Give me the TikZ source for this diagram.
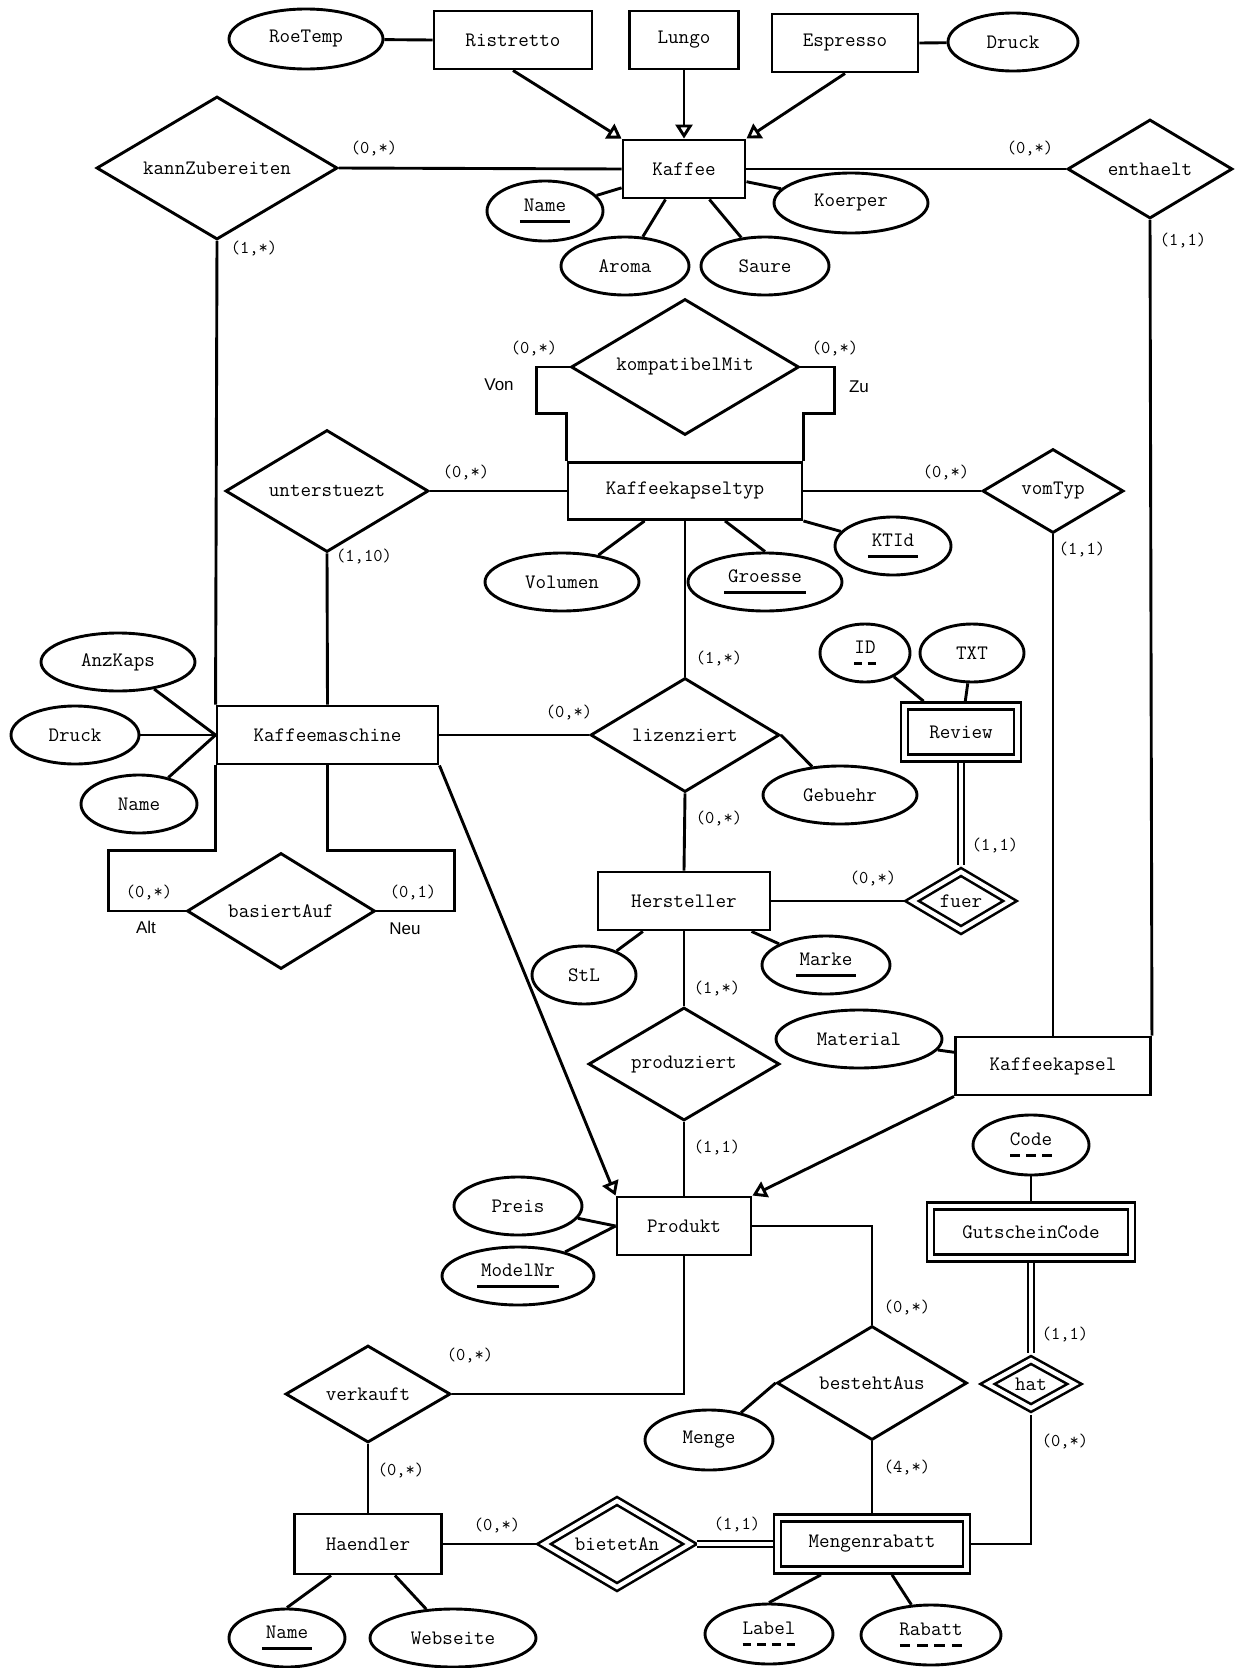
\documentclass[tikz,border=0pt]{standalone}
\usepackage{fontspec}
\newfontfamily\rolefont{Liberation Sans}
\usetikzlibrary{shapes.geometric,arrows.meta}

% Schluessel unterstreichen (durchgezogen / gestrichelt)
\newsavebox{\keybox}
\newcommand{\pk}[1]{\sbox{\keybox}{#1}\rlap{\kern-4pt\raisebox{-11pt}{\rule{\dimexpr\wd\keybox+8pt\relax}{3pt}}}\usebox{\keybox}}
\newcommand{\pkd}[2]{\sbox{\keybox}{#1}\rlap{\kern-3pt\raisebox{-11pt}{\hbox to \dimexpr\wd\keybox+6pt\relax{\xleaders\hbox to \dimexpr(\wd\keybox+6pt)/#2-0.1pt\relax{\hss\rule{\dimexpr(\wd\keybox+6pt)/#2*3/5\relax}{3pt}\hss}\hfil}}}\usebox{\keybox}}

\begin{document}
\begin{tikzpicture}[x=1pt,y=-1pt,line width=2.9pt,
  every node/.style={font=\ttfamily\fontsize{20.5}{22}\selectfont,inner sep=1pt},
  entity/.style={draw,rectangle,minimum height=58pt},
  weakentity/.style={entity,double,double distance=4.2pt,line width=2.6pt,minimum height=52pt,outer sep=4.8pt},
  rel/.style={draw,diamond,aspect=2,inner sep=0pt},
  weakrel/.style={rel,double,double distance=4.2pt,line width=2.6pt,outer sep=4.8pt},
  attr/.style={draw,ellipse,minimum height=58pt},
  card/.style={font=\ttfamily\fontsize{18}{20}\selectfont,inner sep=0pt},
  role/.style={font=\rolefont\fontsize{17}{19}\selectfont,inner sep=0pt},
  isa/.style={-{Triangle[open,length=14pt,width=17pt]}},
  dbl/.style={double,double distance=3.4pt,line width=2.4pt}]
\useasboundingbox (0,0) rectangle (1239,1668);

% Entitaeten
\node[entity,minimum width=158pt] (ristretto) at (513,40) {Ristretto};
\node[entity,minimum width=109pt] (lungo) at (684,40) {Lungo};
\node[entity,minimum width=146pt] (espresso) at (845,43) {Espresso};
\node[entity,minimum width=122pt] (kaffee) at (684,169) {Kaffee};
\node[entity,minimum width=234pt,minimum height=57pt] (kapseltyp) at (685,491) {Kaffeekapseltyp};
\node[entity,minimum width=221pt] (maschine) at (327.5,735) {Kaffeemaschine};
\node[entity,minimum width=172pt] (hersteller) at (684,901) {Hersteller};
\node[entity,minimum width=195pt] (kapsel) at (1053,1066) {Kaffeekapsel};
\node[entity,minimum width=134pt] (produkt) at (684,1226) {Produkt};
\node[entity,minimum width=147pt,minimum height=60pt] (haendler) at (368,1544) {Haendler};
\node[weakentity,minimum width=113pt] (review) at (961,732) {Review};
\node[weakentity,minimum width=201pt] (gutschein) at (1031,1232) {GutscheinCode};
\node[weakentity,minimum width=189pt] (mengenrabatt) at (872,1544) {Mengenrabatt};

% Beziehungen
\node[rel,minimum width=241pt,minimum height=143pt] (kannzub) at (217,168) {kannZubereiten};
\node[rel,minimum width=165pt,minimum height=99pt] (enthaelt) at (1150,169) {enthaelt};
\node[rel,minimum width=228pt,minimum height=136pt] (kompatibel) at (685,367) {kompatibelMit};
\node[rel,minimum width=203pt,minimum height=122pt] (unterstuezt) at (327,491) {unterstuezt};
\node[rel,minimum width=141pt,minimum height=84pt] (vomtyp) at (1053,491) {vomTyp};
\node[rel,minimum width=189pt,minimum height=114pt] (lizenziert) at (685,735) {lizenziert};
\node[rel,minimum width=188pt,minimum height=116pt] (basiertauf) at (281,911) {basiertAuf};
\node[rel,minimum width=191pt,minimum height=113pt] (produziert) at (684,1064) {produziert};
\node[rel,minimum width=165pt,minimum height=97pt] (verkauft) at (368,1394) {verkauft};
\node[rel,minimum width=190pt,minimum height=114pt] (bestehtaus) at (872,1383) {bestehtAus};
\node[weakrel,minimum width=102pt,minimum height=62pt] (fuer) at (961,901) {fuer};
\node[weakrel,minimum width=91pt,minimum height=52pt] (hat) at (1031,1384) {hat};
\node[weakrel,minimum width=150pt,minimum height=90pt] (bietetan) at (617,1544) {bietetAn};

% Attribute
\node[attr,minimum width=154pt,minimum height=60pt] (roetemp) at (306,39) {RoeTemp};
\node[attr,minimum width=130pt] (druckE) at (1013,42) {Druck};
\node[attr,minimum width=116pt,minimum height=60pt] (nameK) at (545,211) {\pk{Name}};
\node[attr,minimum width=128pt] (aroma) at (625,266) {Aroma};
\node[attr,minimum width=128pt] (saure) at (765,266) {Saure};
\node[attr,minimum width=154pt,minimum height=60pt] (koerper) at (851,203) {Koerper};
\node[attr,minimum width=154pt] (volumen) at (562,582) {Volumen};
\node[attr,minimum width=154pt] (groesse) at (765,582) {\pk{Groesse}};
\node[attr,minimum width=116pt] (ktid) at (893,546) {\pk{KTId}};
\node[attr,minimum width=154pt] (anzkaps) at (118,662) {AnzKaps};
\node[attr,minimum width=128pt] (druckM) at (75,735) {Druck};
\node[attr,minimum width=116pt] (nameM) at (139,804) {Name};
\node[attr,minimum width=154pt] (gebuehr) at (840,795) {Gebuehr};
\node[attr,minimum width=90pt] (id) at (865,653) {\pkd{ID}{2}};
\node[attr,minimum width=104pt] (txt) at (972,653) {TXT};
\node[attr,minimum width=104pt] (stl) at (584,975) {StL};
\node[attr,minimum width=128pt] (marke) at (826,965) {\pk{Marke}};
\node[attr,minimum width=166pt] (material) at (859,1039) {Material};
\node[attr,minimum width=116pt,minimum height=60pt] (code) at (1031,1145) {\pkd{Code}{3}};
\node[attr,minimum width=128pt] (preis) at (518,1206) {Preis};
\node[attr,minimum width=152pt] (modelnr) at (518,1276) {\pk{ModelNr}};
\node[attr,minimum width=128pt,minimum height=60pt] (menge) at (709,1440) {Menge};
\node[attr,minimum width=116pt] (nameH) at (287,1638) {\pk{Name}};
\node[attr,minimum width=166pt] (webseite) at (453,1638) {Webseite};
\node[attr,minimum width=128pt,minimum height=60pt] (label) at (769,1634) {\pkd{Label}{4}};
\node[attr,minimum width=140pt,minimum height=60pt] (rabatt) at (931,1635) {\pkd{Rabatt}{4}};

% Vererbung
\draw[isa] (ristretto.south) -- (kaffee.north west);
\draw[isa] (lungo.south) -- (kaffee.north);
\draw[isa] (espresso.south) -- (kaffee.north east);
\draw[isa] (maschine.south east) -- (produkt.north west);
\draw[isa] (kapsel.south west) -- (produkt.north east);

% Attribute anbinden
\draw (roetemp) -- (ristretto.west);
\draw (espresso.east) -- (druckE);
\draw (nameK) -- (kaffee);
\draw (aroma) -- (kaffee);
\draw (saure) -- (kaffee);
\draw (koerper) -- (kaffee);
\draw (volumen) -- (kapseltyp);
\draw ([xshift=40pt]kapseltyp.south) -- (groesse.north);
\draw (kapseltyp.south east) -- (ktid);
\draw (anzkaps) -- (maschine.west);
\draw (druckM) -- (maschine.west);
\draw (nameM) -- (maschine.west);
\draw (lizenziert.east) -- (gebuehr);
\draw (id) -- (review);
\draw (txt) -- (review);
\draw (stl) -- (hersteller);
\draw (marke) -- (hersteller);
\draw (material) -- (kapsel);
\draw (code) -- (gutschein);
\draw (preis) -- (produkt.west);
\draw (modelnr) -- (produkt.west);
\draw (menge) -- (bestehtaus.west);
\draw ([xshift=-37pt]haendler.south) -- (nameH.north);
\draw ([xshift=27pt]haendler.south) -- (webseite);
\draw ([xshift=-51pt]mengenrabatt.south) -- (label.north);
\draw ([xshift=20pt]mengenrabatt.south) -- (rabatt);

% Beziehungen verbinden
\draw (kannzub.east) -- (kaffee.west);
\draw (kannzub.south) -- (maschine.north west);
\draw (kaffee.east) -- (enthaelt.west);
\draw (enthaelt.south) -- (kapsel.north east);
\draw (kompatibel.west) -- ++(-33,0) |- ([yshift=48pt]kapseltyp.north west) -- (kapseltyp.north west);
\draw (kompatibel.east) -- ++(34,0) |- ([yshift=48pt]kapseltyp.north east) -- (kapseltyp.north east);
\draw (unterstuezt.east) -- (kapseltyp.west);
\draw (unterstuezt.south) -- (maschine.north);
\draw (kapseltyp.east) -- (vomtyp.west);
\draw (vomtyp.south) -- (kapsel.north);
\draw (kapseltyp.south) -- (lizenziert.north);
\draw (maschine.east) -- (lizenziert.west);
\draw (lizenziert.south) -- (hersteller.north);
\draw (maschine.south west) -- ++(0,85) -| ([xshift=-77pt]basiertauf.west) -- (basiertauf.west);
\draw (maschine.south) -- ++(0,85) -| ([xshift=78pt]basiertauf.east) -- (basiertauf.east);
\draw (hersteller.east) -- (fuer.west);
\draw[dbl] (review.south) -- (fuer.north);
\draw (hersteller.south) -- (produziert.north);
\draw (produziert.south) -- (produkt.north);
\draw (produkt.south) |- (verkauft.east);
\draw (produkt.east) -| (bestehtaus.north);
\draw (verkauft.south) -- (haendler.north);
\draw (haendler.east) -- (bietetan.west);
\draw[dbl] (bietetan.east) -- (mengenrabatt.west);
\draw (bestehtaus.south) -- (mengenrabatt.north);
\draw (mengenrabatt.east) -| (hat.south);
\draw[dbl] (gutschein.south) -- (hat.north);

% Kardinalitaeten
\node[card] (k1) at (374,149) {(0,*)};
\node[card] (k2) at (254,249) {(1,*)};
\node[card] (k3) at (1030,149) {(0,*)};
\node[card] (k4) at (1183,240) {(1,1)};
\node[card] (k5) at (534,348) {(0,*)};
\node[card] (k6) at (835,348) {(0,*)};
\node[card] (k7) at (466,472) {(0,*)};
\node[card] (k8) at (364,556) {(1,10)};
\node[card] (k9) at (946,472) {(0,*)};
\node[card] (k10) at (1082,549) {(1,1)};
\node[card] (k11) at (719,658) {(1,*)};
\node[card] (k12) at (569,712) {(0,*)};
\node[card] (k13) at (719,818) {(0,*)};
\node[card] (k14) at (149,892) {(0,*)};
\node[card] (k15) at (413,892) {(0,1)};
\node[card] (k16) at (995,845) {(1,1)};
\node[card] (k17) at (873,878) {(0,*)};
\node[card] (k18) at (717,988) {(1,*)};
\node[card] (k19) at (717,1147) {(1,1)};
\node[card] (k20) at (470,1355) {(0,*)};
\node[card] (k21) at (401,1470) {(0,*)};
\node[card] (k22) at (907,1307) {(0,*)};
\node[card] (k23) at (907,1467) {(4,*)};
\node[card] (k24) at (1065,1334) {(1,1)};
\node[card] (k25) at (1065,1441) {(0,*)};
\node[card] (k26) at (497,1525) {(0,*)};
\node[card] (k27) at (737,1524) {(1,1)};

% Rollen
\node[role] (von) at (499,385) {Von};
\node[role] (zu) at (859,387) {Zu};
\node[role] (alt) at (146,927) {Alt};
\node[role] (neu) at (405,929) {Neu};
\end{tikzpicture}
\end{document}
